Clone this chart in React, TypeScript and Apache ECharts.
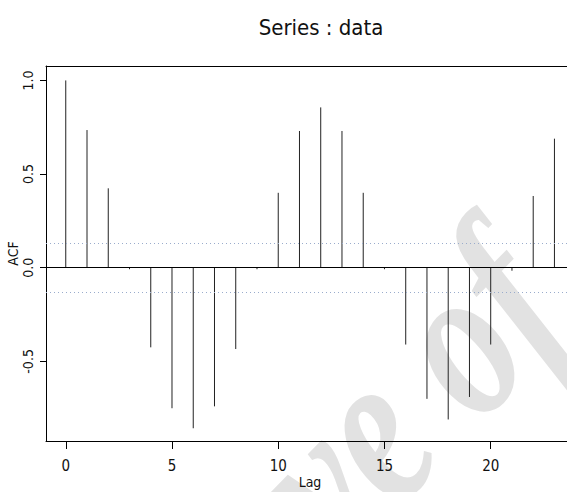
import React, { useEffect, useRef } from "react";
import * as echarts from "echarts";

const lags: number[] = [0, 1, 2, 3, 4, 5, 6, 7, 8, 9, 10, 11, 12, 13, 14, 15, 16, 17, 18, 19, 20, 21, 22, 23];
const acf: number[] = [1.0, 0.735, 0.424, -0.008, -0.425, -0.75, -0.857, -0.74, -0.434, -0.008, 0.4, 0.73, 0.856, 0.73, 0.4, -0.008, -0.41, -0.7, -0.81, -0.69, -0.41, -0.016, 0.383, 0.689];
const confLimit = 0.129;
const xTicks: number[] = [0, 5, 10, 15, 20];
const yTicks: number[] = [-0.5, 0, 0.5, 1];
const xRange: number[] = [-0.93, 23.92];
const yRange: number[] = [-0.925, 1.077];

const FONT = "'DejaVu Sans Condensed', 'Liberation Sans Narrow', 'Liberation Sans', Arial, sans-serif";

export default function App() {
  const ref = useRef<HTMLDivElement>(null);
  useEffect(() => {
    if (!ref.current) return;
    const chart = echarts.init(ref.current, undefined, { renderer: "svg" });
    const option: any = {
      animation: false,
      backgroundColor: "#ffffff",
      title: {
        text: "Series : data",
        left: 316,
        top: 11,
        textAlign: "center",
        textStyle: { fontFamily: FONT, fontSize: 22, fontWeight: "normal", color: "#111" },
      },
      graphic: [
        {
          type: "text",
          x: 406,
          y: 392,
          rotation: 0.8,
          scaleY: 1.3,
          z: 0,
          silent: true,
          style: {
            text: "ve of",
            fontSize: 172,
            fontStyle: "italic",
            fontWeight: "bold",
            fontFamily: "'Liberation Serif', serif",
            fill: "#e2e2e2",
            align: "center",
            verticalAlign: "middle",
          },
        },
      ],
      grid: { left: 46, right: -7, top: 66, bottom: 51, outerBoundsMode: "none", containLabel: false },
      xAxis: [
        {
          type: "value",
          min: xRange[0],
          max: xRange[1],
          position: "bottom",
          name: "Lag",
          nameLocation: "middle",
          nameGap: 34,
          nameMoveOverlap: false,
          nameTextStyle: { fontFamily: FONT, fontSize: 14, color: "#111" },
          axisLine: { show: true, onZero: false, lineStyle: { color: "#000", width: 1 } },
          axisTick: { show: true, length: 8, customValues: xTicks, lineStyle: { color: "#000" } },
          axisLabel: {
            customValues: xTicks,
            margin: 17,
            fontFamily: FONT,
            fontSize: 15,
            color: "#111",
          },
          splitLine: { show: false },
        },
        {
          type: "value",
          min: xRange[0],
          max: xRange[1],
          position: "top",
          axisLine: { show: true, onZero: false, lineStyle: { color: "#000", width: 1 } },
          axisTick: { show: false },
          axisLabel: { show: false },
          splitLine: { show: false },
        },
      ],
      yAxis: {
        type: "value",
        min: yRange[0],
        max: yRange[1],
        name: "ACF",
        nameLocation: "middle",
        nameRotate: 90,
        nameGap: 26,
        nameMoveOverlap: false,
        nameTextStyle: { fontFamily: FONT, fontSize: 14, color: "#111" },
        axisLine: { show: true, onZero: false, lineStyle: { color: "#000", width: 1 } },
        axisTick: { show: true, length: 6, customValues: yTicks, lineStyle: { color: "#000" } },
        axisLabel: {
          customValues: yTicks,
          rotate: 90,
          margin: 11,
          fontFamily: FONT,
          fontSize: 14,
          color: "#111",
          formatter: (v: number) => v.toFixed(1),
        },
        splitLine: { show: false },
      },
      series: [
        {
          type: "custom",
          xAxisIndex: 0,
          yAxisIndex: 0,
          z: 3,
          data: lags.map((l, i) => [l, acf[i]]),
          renderItem: (params: any, api: any) => {
            const x = api.value(0);
            const v = api.value(1);
            const p0 = api.coord([x, 0]);
            const p1 = api.coord([x, v]);
            return {
              type: "line",
              shape: { x1: p0[0], y1: p0[1], x2: p1[0], y2: p1[1] },
              style: { stroke: "#222", lineWidth: 1 },
            };
          },
          markLine: {
            silent: true,
            symbol: ["none", "none"],
            label: { show: false },
            data: [
              { yAxis: 0, lineStyle: { color: "#000", type: "solid", width: 1 } },
              { yAxis: confLimit, lineStyle: { color: "#9aaccc", type: [1, 3], width: 1 } },
              { yAxis: -confLimit, lineStyle: { color: "#9aaccc", type: [1, 3], width: 1 } },
            ],
          },
        },
      ],
    };
    chart.setOption(option);
    return () => chart.dispose();
  }, []);
  return (
    <div
      ref={ref}
      style={{ position: "fixed", left: 0, top: 0, width: 567, height: 492 }}
    />
  );
}
